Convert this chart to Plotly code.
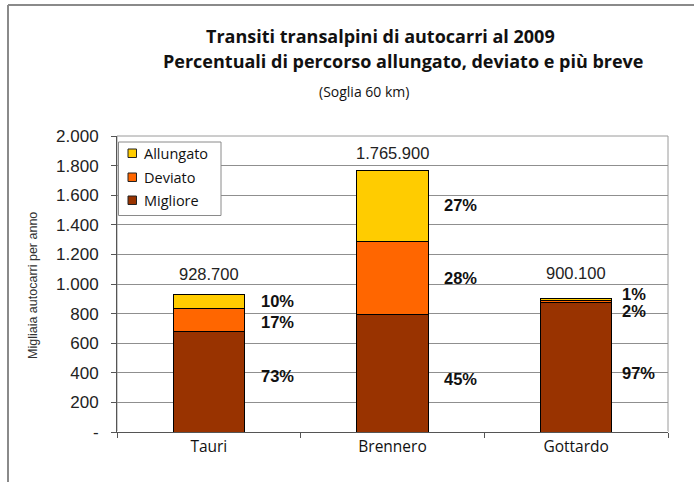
import plotly.graph_objects as go

categories = ["Tauri", "Brennero", "Gottardo"]
totals = [928.7, 1765.9, 900.1]
migliore = [678, 795, 873]
deviato = [158, 494, 18]
allungato = [93, 477, 9]
pct_migliore = ["73%", "45%", "97%"]
pct_deviato = ["17%", "28%", "2%"]
pct_allungato = ["10%", "27%", "1%"]
total_labels = ["928.700", "1.765.900", "900.100"]
y_ticks = [0, 200, 400, 600, 800, 1000, 1200, 1400, 1600, 1800, 2000]
y_tick_labels = ["-", "200", "400", "600", "800", "1.000", "1.200", "1.400", "1.600", "1.800", "2.000"]
series_names = ["Allungato", "Deviato", "Migliore"]
series_colors = ["#FFCC00", "#FF6600", "#993300"]

W, H = 694, 482
L, R, T, B = 117, 26, 136, 50
PW, PH = W - L - R, H - T - B

def px(x):
    return (x - L) / PW

def py(y):
    return (H - B - y) / PH

fig = go.Figure()
line = dict(color="#000000", width=1)
fig.add_trace(go.Bar(x=categories, y=migliore, name="Migliore", marker=dict(color="#993300", line=line)))
fig.add_trace(go.Bar(x=categories, y=deviato, name="Deviato", marker=dict(color="#FF6600", line=line)))
fig.add_trace(go.Bar(x=categories, y=allungato, name="Allungato", marker=dict(color="#FFCC00", line=line)))

annotations = []
pfont = dict(family="Liberation Sans", size=16.5, color="#111111")
xshifts = [50, 49, 44]
yshifts = {(0, 0): 6, (0, 1): -2, (0, 2): 0,
           (1, 0): -6, (1, 1): 0, (1, 2): 1,
           (2, 0): -5.5, (2, 1): -9.5, (2, 2): 5.5}
total_shift = [21, 18, 26]
for i, c in enumerate(categories):
    bases = [0, migliore[i], migliore[i] + deviato[i]]
    vals = [migliore[i], deviato[i], allungato[i]]
    texts = [pct_migliore[i], pct_deviato[i], pct_allungato[i]]
    for k in range(3):
        annotations.append(dict(
            x=c, y=bases[k] + vals[k] / 2, xref="x", yref="y",
            text="<b>%s</b>" % texts[k], showarrow=False,
            xanchor="left", yanchor="middle", xshift=xshifts[i],
            yshift=yshifts[(i, k)], font=pfont))
    annotations.append(dict(
        x=c, y=totals[i], xref="x", yref="y", text=total_labels[i], showarrow=False,
        xanchor="center", yanchor="middle", yshift=total_shift[i],
        font=dict(family="Liberation Sans", size=16.5, color="#222222")))

tfont = dict(family="Open Sans", size=18, color="#111111")
annotations += [
    dict(x=px(380), y=py(36), xref="paper", yref="paper", text="<b>Transiti transalpini di autocarri al 2009</b>",
         showarrow=False, xanchor="center", yanchor="middle", font=tfont),
    dict(x=px(403), y=py(61), xref="paper", yref="paper",
         text="<b>Percentuali di percorso allungato, deviato e più breve</b>",
         showarrow=False, xanchor="center", yanchor="middle", font=tfont),
    dict(x=px(364), y=py(92), xref="paper", yref="paper", text="(Soglia 60 km)",
         showarrow=False, xanchor="center", yanchor="middle",
         font=dict(family="Open Sans", size=14, color="#111111")),
    dict(x=px(33), y=py(286), xref="paper", yref="paper", text="Migliaia autocarri per anno",
         showarrow=False, xanchor="center", yanchor="middle", textangle=-90,
         font=dict(family="Liberation Sans", size=12.5, color="#333333")),
]

shapes = [
    dict(type="line", xref="paper", yref="paper", x0=px(8), x1=px(8), y0=py(5), y1=py(H + 5),
         line=dict(color="#8a8a8a", width=2)),
    dict(type="line", xref="paper", yref="paper", x0=px(8), x1=px(W + 5), y0=py(5), y1=py(5),
         line=dict(color="#8a8a8a", width=2)),
    dict(type="rect", xref="paper", yref="paper", x0=0, x1=1, y0=0, y1=1,
         line=dict(color="#9a9a9a", width=1), layer="below"),
    # legend box
    dict(type="rect", xref="paper", yref="paper", x0=px(118.5), x1=px(221), y0=py(142), y1=py(215.5),
         line=dict(color="#8a8a8a", width=1), fillcolor="white", layer="above"),
]
legend_rows = [153.5, 177.5, 200.5]
for name, color, yc in zip(series_names, series_colors, legend_rows):
    shapes.append(dict(type="rect", xref="paper", yref="paper", x0=px(128), x1=px(136.5),
                       y0=py(yc - 4.5), y1=py(yc + 4), fillcolor=color,
                       line=dict(color="#222222", width=1), layer="above"))
    annotations.append(dict(x=px(142), y=py(yc), xref="paper", yref="paper", text=name,
                            showarrow=False, xanchor="left", yanchor="middle",
                            font=dict(family="Open Sans", size=14.5, color="#111111")))

fig.update_layout(
    width=W, height=H, barmode="stack", bargap=0.61, showlegend=False,
    margin=dict(l=L, r=R, t=T, b=B),
    paper_bgcolor="white", plot_bgcolor="white",
    annotations=annotations, shapes=shapes,
    xaxis=dict(showgrid=False, showline=True, linecolor="#555555", linewidth=1,
               ticks="outside", tickson="boundaries", ticklen=5, tickcolor="#555555",
               tickfont=dict(family="Open Sans", size=15.5, color="#111111")),
    yaxis=dict(range=[0, 2000], tickvals=y_ticks, ticktext=y_tick_labels,
               showgrid=True, gridcolor="#8f8f8f", gridwidth=1,
               showline=True, linecolor="#555555", linewidth=1,
               ticks="outside", ticklen=5, tickcolor="#555555",
               ticklabelstandoff=9,
               tickfont=dict(family="Liberation Sans", size=17, color="#222222")),
)

fig.write_html("out.html")
